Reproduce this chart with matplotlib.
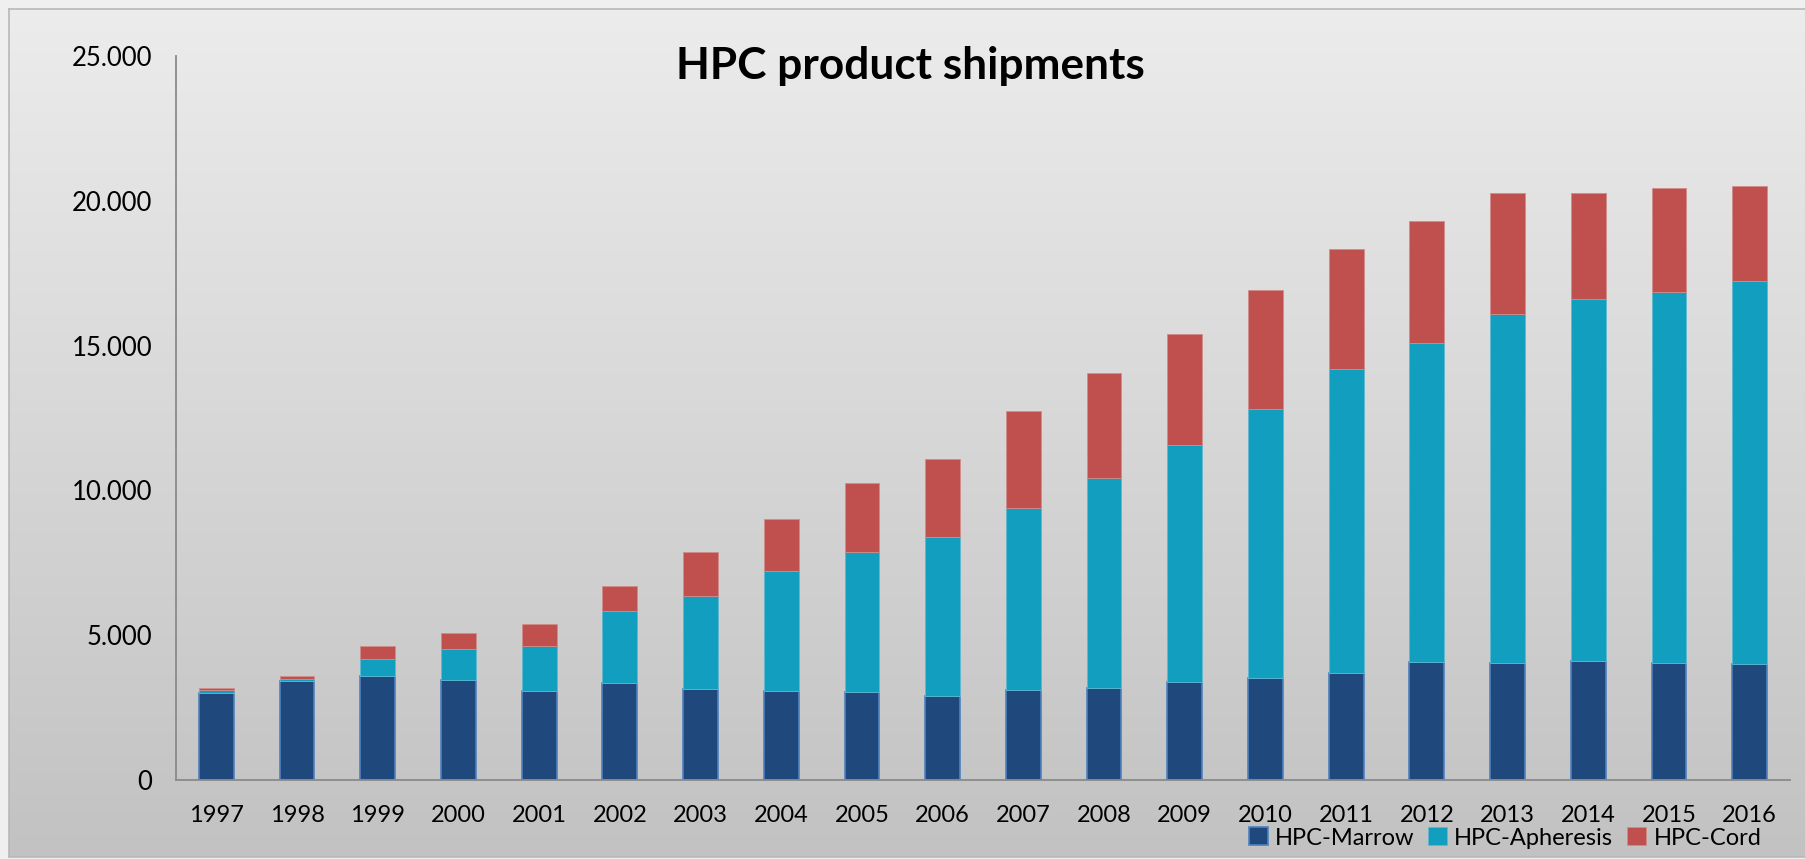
import numpy as np
import matplotlib.pyplot as plt
from matplotlib.colors import LinearSegmentedColormap
from matplotlib.ticker import FuncFormatter

# HPC shipments per year, split by product
years = ['1997', '1998', '1999', '2000', '2001', '2002', '2003', '2004', '2005', '2006',
         '2007', '2008', '2009', '2010', '2011', '2012', '2013', '2014', '2015', '2016']
marrow = [2994, 3418, 3591, 3465, 3085, 3349, 3131, 3073, 3050, 2912,
          3096, 3165, 3395, 3522, 3706, 4075, 4040, 4098, 4029, 4005]
apheresis = [114, 59, 587, 1047, 1553, 2478, 3223, 4144, 4823, 5468,
             6307, 7274, 8162, 9278, 10475, 11004, 12061, 12511, 12832, 13215]
cord = [69, 114, 437, 575, 749, 875, 1519, 1785, 2382, 2704,
        3328, 3601, 3833, 4109, 4166, 4213, 4168, 3649, 3581, 3291]
series_names = ['HPC-Marrow', 'HPC-Apheresis', 'HPC-Cord']
y_ticks = [0, 5000, 10000, 15000, 20000, 25000]

plt.rcParams['font.family'] = ['Lato', 'DejaVu Sans']

fig = plt.figure(figsize=(18.05, 8.59), dpi=100, facecolor='#f0eff0')

# grey gradient panel behind the chart
bg = fig.add_axes([9 / 1805, 2 / 859, 1, 848 / 859], zorder=0)
grad = np.linspace(0, 1, 256).reshape(-1, 1)
bg.imshow(grad, aspect='auto', extent=[0, 1, 0, 1],
          cmap=LinearSegmentedColormap.from_list('bg', ['#ececec', '#c2c2c2']))
bg.set_xticks([])
bg.set_yticks([])
for s in bg.spines.values():
    s.set_color('#b8b8b8')
    s.set_linewidth(1.2)

ax = fig.add_axes([176 / 1805, 79 / 859, 1614 / 1805, 724 / 859], zorder=1)
ax.set_facecolor('none')

x = np.arange(len(years))
w = 0.43
m = np.array(marrow)
a = np.array(apheresis)
c = np.array(cord)
ax.bar(x, m, w, color='#1f497d', edgecolor='#4f81bd', linewidth=1.2, label=series_names[0])
ax.bar(x, a, w, bottom=m, color='#129ebe', edgecolor='#5fb9d0', linewidth=0.6, label=series_names[1])
ax.bar(x, c, w, bottom=m + a, color='#c0504d', edgecolor='#d08c8a', linewidth=0.6, label=series_names[2])

ax.set_xlim(-0.5, len(years) - 0.5)
ax.set_ylim(0, 25000)
ax.set_yticks(y_ticks)
ax.yaxis.set_major_formatter(FuncFormatter(lambda v, p: f'{int(v):,}'.replace(',', '.')))
ax.set_xticks(x)
ax.set_xticklabels(years)
ax.tick_params(axis='both', length=0, colors='black')
ax.tick_params(axis='x', labelsize=17, pad=18)
ax.tick_params(axis='y', labelsize=18.5, pad=17)

for side in ['top', 'right']:
    ax.spines[side].set_visible(False)
ax.spines['left'].set_color('#8a8a8a')
ax.spines['bottom'].set_color('#8a8a8a')
ax.spines['left'].set_linewidth(1.3)
ax.spines['bottom'].set_linewidth(1.3)

fig.text(910 / 1805, 1 - 66 / 859, 'HPC product shipments', ha='center', va='center',
         fontsize=31.8, fontweight='bold')

fig.legend(loc='center', bbox_to_anchor=(1505 / 1805, 1 - 838 / 859), ncol=3, frameon=False,
           fontsize=17, handlelength=0.8, handleheight=0.8, handletextpad=0.3,
           columnspacing=0.6, borderpad=0)

fig.savefig('out.png', dpi=100, facecolor=fig.get_facecolor())
